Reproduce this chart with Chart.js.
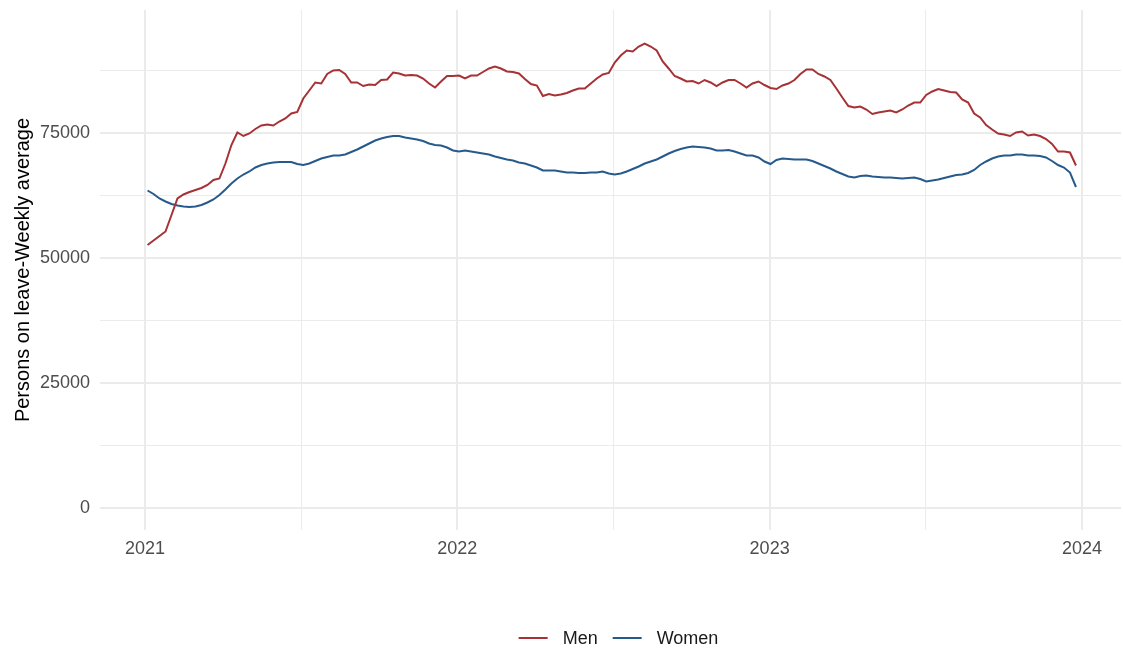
<!DOCTYPE html>
<html>
<head>
<meta charset="utf-8">
<script src="https://cdn.jsdelivr.net/npm/chart.js@4/dist/chart.umd.min.js"></script>
<style>
  html, body { margin: 0; padding: 0; background: #fff; }
  canvas { display: block; }
</style>
</head>
<body>
<canvas id="leaveChart" width="1123" height="651"></canvas>
<script>
// Weekly series, first week starting 2021-01-04
const firstWeek = "2021-01-04";

const men = [
  52600, 53500, 54400, 55300, 58600, 61900, 62700, 63200, 63600, 64000,
  64600, 65600, 65900, 68900, 72600, 75100, 74400, 74900, 75800, 76500,
  76700, 76500, 77300, 77900, 78900, 79200, 81900, 83500, 85100, 84900,
  86800, 87500, 87600, 86800, 85100, 85100, 84400, 84700, 84600, 85600,
  85700, 87100, 86900, 86500, 86600, 86500, 85900, 84900, 84100, 85300,
  86400, 86400, 86500, 85900, 86500, 86500, 87200, 87900, 88300, 87900,
  87300, 87200, 86900, 85800, 84800, 84500, 82400, 82800, 82500, 82700,
  83000, 83500, 83900, 83900, 84900, 85900, 86700, 87000, 89100, 90500,
  91500, 91300, 92300, 92900, 92300, 91500, 89300, 87900, 86400, 85900,
  85300, 85400, 84900, 85600, 85100, 84400, 85100, 85600, 85600, 84900,
  84100, 84900, 85300, 84600, 84000, 83800, 84500, 84900, 85600, 86800,
  87700, 87700, 86800, 86300, 85600, 83900, 82100, 80400, 80100, 80300,
  79700, 78800, 79100, 79300, 79500, 79100, 79700, 80500, 81100, 81100,
  82600, 83300, 83800, 83500, 83200, 83100, 81700, 81100, 78900, 78100,
  76600, 75700, 74900, 74700, 74400, 75100, 75300, 74500, 74700, 74400,
  73800, 72800, 71300, 71300, 71100, 68500
];

const women = [
  63500, 62800, 61900, 61300, 60800, 60500, 60300, 60200, 60300, 60600,
  61100, 61700, 62600, 63700, 64900, 65900, 66700, 67300, 68100, 68600,
  68900, 69100, 69200, 69200, 69200, 68800, 68600, 68900, 69400, 69900,
  70200, 70500, 70500, 70700, 71200, 71700, 72300, 72900, 73500, 73900,
  74200, 74400, 74400, 74100, 73900, 73700, 73400, 72900, 72600, 72500,
  72100, 71500, 71300, 71500, 71300, 71100, 70900, 70700, 70300, 70000,
  69700, 69500, 69100, 68900, 68500, 68100, 67500, 67500, 67500, 67300,
  67100, 67100, 67000, 67000, 67100, 67100, 67300, 66900, 66700, 66900,
  67300, 67800, 68300, 68900, 69300, 69700, 70300, 70900, 71400, 71800,
  72100, 72300, 72200, 72100, 71900, 71500, 71500, 71600, 71300, 70900,
  70500, 70500, 70100, 69300, 68800, 69600, 69900, 69800, 69700, 69700,
  69700, 69400, 68900, 68400, 67900, 67300, 66800, 66300, 66100, 66400,
  66500, 66300, 66200, 66100, 66100, 66000, 65900, 66000, 66100, 65800,
  65300, 65500, 65700, 66000, 66300, 66600, 66700, 67000, 67600, 68600,
  69300, 69900, 70300, 70500, 70500, 70700, 70700, 70500, 70500, 70400,
  70100, 69400, 68600, 68100, 67100, 64200
];

const xTicks = [2021, 2021.5, 2022, 2022.5, 2023, 2023.5, 2024];
const yTicks = [0, 12500, 25000, 37500, 50000, 62500, 75000, 87500];

// date -> decimal year
function decYear(d) {
  const y = d.getUTCFullYear();
  const start = Date.UTC(y, 0, 1);
  const end = Date.UTC(y + 1, 0, 1);
  return y + (d.getTime() - start) / (end - start);
}

const t0 = new Date(firstWeek + "T00:00:00Z");
function toPoints(vals) {
  return vals.map((v, i) => ({ x: decYear(new Date(t0.getTime() + i * 7 * 86400000)), y: v }));
}

const font = "'Liberation Sans', Arial, sans-serif";
const gridColor = "#ebebeb";

// ggplot-style legend under the panel
const bottomLegend = {
  id: "bottomLegend",
  afterDraw(chart) {
    const c = chart.ctx;
    const area = chart.chartArea;
    c.save();
    c.font = "18px " + font;
    c.textBaseline = "middle";
    const lineLen = 29, gap = 15;
    const items = chart.data.datasets.map(ds => ({ label: ds.label, color: ds.borderColor, w: c.measureText(ds.label).width }));
    let total = 0;
    items.forEach((it, i) => { total += lineLen + gap + it.w + (i < items.length - 1 ? gap : 0); });
    let x = (area.left + area.right) / 2 + 8 - total / 2;
    const y = 638;
    items.forEach(it => {
      c.strokeStyle = it.color;
      c.lineWidth = 2;
      c.beginPath();
      c.moveTo(x, y);
      c.lineTo(x + lineLen, y);
      c.stroke();
      x += lineLen + gap;
      c.fillStyle = "#1a1a1a";
      c.fillText(it.label, x, y + 1);
      x += it.w + gap;
    });
    c.restore();
  }
};

const ctx = document.getElementById("leaveChart").getContext("2d");
new Chart(ctx, {
  type: "line",
  data: {
    datasets: [
      { label: "Men", data: toPoints(men), borderColor: "#a63236", backgroundColor: "#a63236",
        borderWidth: 2, pointRadius: 0, tension: 0 },
      { label: "Women", data: toPoints(women), borderColor: "#265a8c", backgroundColor: "#265a8c",
        borderWidth: 2, pointRadius: 0, tension: 0 }
    ]
  },
  options: {
    responsive: false,
    animation: false,
    devicePixelRatio: 1,
    layout: { padding: { top: 10, right: 2, bottom: 26, left: 0 } },
    plugins: {
      tooltip: { enabled: false },
      legend: { display: false }
    },
    scales: {
      x: {
        type: "linear",
        min: 2020.856,
        max: 2024.125,
        afterBuildTicks: s => { s.ticks = xTicks.map(v => ({ value: v })); },
        afterFit: s => { s.height = 95; s.paddingLeft = 0; s.paddingRight = 0; },
        ticks: {
          autoSkip: false,
          maxRotation: 0,
          padding: 8,
          color: "#4d4d4d",
          font: { family: font, size: 18 },
          callback: v => Number.isInteger(v) ? String(v) : ""
        },
        grid: {
          drawTicks: false,
          color: gridColor,
          lineWidth: c => (c.tick && Number.isInteger(c.tick.value)) ? 2 : 1
        },
        border: { display: false }
      },
      y: {
        min: -4400,
        max: 99600,
        afterBuildTicks: s => { s.ticks = yTicks.map(v => ({ value: v })); },
        afterFit: s => { s.width = 100; s.paddingTop = 0; s.paddingBottom = 0; },
        ticks: {
          padding: 10,
          color: "#4d4d4d",
          font: { family: font, size: 18 },
          callback: v => v % 25000 === 0 ? String(v) : ""
        },
        grid: {
          drawTicks: false,
          color: gridColor,
          lineWidth: c => (c.tick && c.tick.value % 25000 === 0) ? 2 : 1
        },
        border: { display: false },
        title: {
          display: true,
          text: "Persons on leave-Weekly average",
          color: "#000",
          font: { family: font, size: 20 },
          padding: { top: 11, bottom: 0 }
        }
      }
    }
  },
  plugins: [bottomLegend]
});
</script>
</body>
</html>
